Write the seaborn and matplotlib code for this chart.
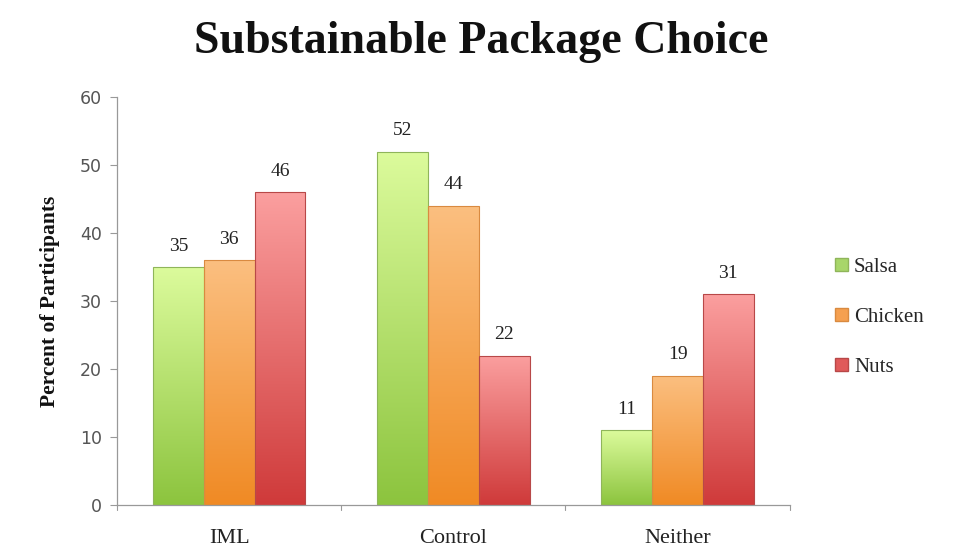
import numpy as np
import pandas as pd
import matplotlib
matplotlib.use("Agg")
import matplotlib.pyplot as plt
import seaborn as sns
from matplotlib.colors import LinearSegmentedColormap
from matplotlib.patches import Patch

categories = ["IML", "Control", "Neither"]
series = ["Salsa", "Chicken", "Nuts"]
salsa = [35, 52, 11]
chicken = [36, 44, 19]
nuts = [46, 22, 31]
yticks = [0, 10, 20, 30, 40, 50, 60]

top_colors = {"Salsa": "#dcfb9c", "Chicken": "#fbbf80", "Nuts": "#fb9f9f"}
bot_colors = {"Salsa": "#8cc43e", "Chicken": "#f08a24", "Nuts": "#cf3a3a"}
mid_colors = {"Salsa": "#a8d66a", "Chicken": "#f5a050", "Nuts": "#e05a5a"}
edge_colors = {"Salsa": "#8fb55a", "Chicken": "#d98a40", "Nuts": "#b84848"}

df = pd.DataFrame({
    "Category": categories * 3,
    "Series": [s for s in series for _ in categories],
    "Value": salsa + chicken + nuts,
})

sns.set_style("white")
plt.rcParams["font.family"] = ["Liberation Serif", "DejaVu Serif"]

fig = plt.figure(figsize=(9.63, 5.52), dpi=100)
ax = fig.add_axes([0.1215, 0.085, 0.6985, 0.739])

sns.barplot(data=df, x="Category", y="Value", hue="Series", order=categories,
            hue_order=series, palette=mid_colors, width=0.68, ax=ax,
            legend=False, saturation=1)

grad = np.linspace(0, 1, 256).reshape(-1, 1)
for i, s in enumerate(series):
    cont = ax.containers[i]
    cmap = LinearSegmentedColormap.from_list(s, [bot_colors[s], top_colors[s]])
    for bar, val in zip(cont.patches, [salsa, chicken, nuts][i]):
        x0, y0 = bar.get_x(), bar.get_y()
        w, h = bar.get_width(), bar.get_height()
        bar.set_facecolor("none")
        bar.set_edgecolor(edge_colors[s])
        bar.set_linewidth(0.8)
        im = ax.imshow(grad, cmap=cmap, origin="lower", aspect="auto",
                       extent=[x0, x0 + w, y0, y0 + h], zorder=1.5)
        im.set_clip_path(bar)
        bar.set_zorder(2)
        ax.annotate(f"{val:.0f}", (x0 + w / 2, y0 + h), xytext=(0, 9),
                    textcoords="offset points", ha="center", va="bottom",
                    fontsize=14, color="#222222")

ax.set_xlim(-0.5, 2.5)
ax.set_ylim(0, 60)
ax.set_yticks(yticks)
ax.set_yticklabels([str(t) for t in yticks], family="DejaVu Sans",
                   color="#555555", fontsize=12.5)
ax.set_xticks([0, 1, 2])
ax.set_xticklabels(categories, fontsize=16, color="#222222")
ax.tick_params(axis="x", length=0, pad=17)
ax.tick_params(axis="y", left=True, length=5, width=0.8, color="#999999", pad=6)
for x in [-0.5, 0.5, 1.5, 2.5]:
    ax.plot([x, x], [0, -0.012], transform=ax.get_xaxis_transform(),
            color="#999999", lw=0.8, clip_on=False)
ax.set_xlabel("")
ax.set_ylabel("Percent of Participants", fontsize=15.5, fontweight="bold",
              labelpad=14, color="#111111")
for sp in ["top", "right"]:
    ax.spines[sp].set_visible(False)
for sp in ["left", "bottom"]:
    ax.spines[sp].set_color("#999999")
    ax.spines[sp].set_linewidth(0.9)

handles = [Patch(facecolor=mid_colors[s], edgecolor=edge_colors[s]) for s in series]
fig.legend(handles, series, loc="center left", bbox_to_anchor=(0.848, 0.425),
           frameon=False, fontsize=15, labelspacing=1.5, handlelength=0.6,
           handleheight=0.6, handletextpad=0.3)

fig.suptitle("Substainable Package Choice", x=0.5, y=0.962, fontsize=33,
             fontweight="bold", color="#111111")

fig.savefig("out.png", dpi=100)
